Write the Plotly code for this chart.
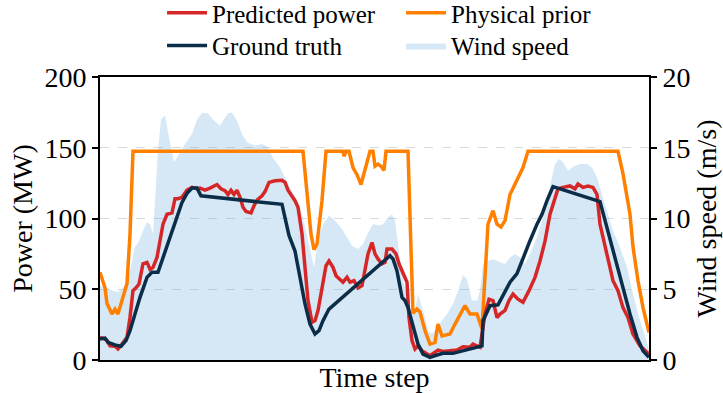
import plotly.graph_objects as go

# ---- data (time step index, values) ----
t_pred = [0, 3, 7, 10, 15, 18, 22, 27, 30, 33, 36, 39, 43, 47, 50, 53, 57, 60, 63, 67, 72, 75, 78, 82, 87, 92, 97, 100,
          105, 110, 117, 121, 125, 128, 131, 134, 137, 140, 143, 146, 151, 154, 157, 162, 165, 169, 175, 182, 185, 188,
          192, 195, 198, 202, 205, 208, 212, 215, 218, 222, 226, 229, 233, 236, 240, 243, 247, 250, 254, 258, 262, 265,
          268, 272, 275, 278, 282, 285, 287, 292, 296, 299, 303, 307, 309, 312, 315, 318, 322, 330, 338, 343, 350, 357,
          363, 370, 373, 380, 385, 389, 393, 397, 400, 405, 409, 413, 418, 423, 429, 435, 440, 445, 450, 455, 458, 463,
          470, 475, 478, 483, 488, 493, 497, 500, 503, 508, 513, 518, 523, 528, 533, 540, 547, 549]
pred = [16, 15.5, 13.7, 10, 9.7, 7.8, 11.3, 16, 30, 49, 51, 53.7, 68, 69, 64, 65.5, 72.5, 84, 96, 103, 104, 114, 114, 115,
        120, 122, 121, 121.5, 120, 121.5, 124, 121, 119.7, 117, 120, 117, 120, 115, 108, 105, 104, 109, 113, 116, 119,
        125.5, 126.7, 127, 125.5, 120, 116, 112.6, 108, 89, 65.5, 42, 26.6, 27.8, 35, 51, 66.7, 70, 65.5, 59.6, 57, 55,
        58.4, 55, 56, 51, 52.5, 63, 75, 83, 75, 71.4, 68, 69, 78.4, 78.4, 75, 68, 61, 55, 30, 13.7, 7.8, 10, 6.6, 3, 7,
        6, 6.6, 7, 9.4, 9, 11.3, 9, 32.5, 43, 42, 30, 32.5, 35, 42, 46.6, 43, 40.8, 49, 58.4, 70, 84, 103, 115, 121, 122,
        123, 121, 124.4, 122, 123, 122, 117, 96, 86.7, 72.5, 56, 49, 37, 30, 18.4, 10, 5.4, 4.2]

t_true = [0, 5, 8, 15, 21, 26, 30, 35, 40, 47, 52, 58, 63, 70, 77, 82, 87, 92, 97, 101, 182, 185, 189, 195, 200, 205,
          210, 215, 219, 223, 229, 290, 293, 297, 302, 305, 308, 313, 318, 323, 330, 337, 343, 353, 363, 370, 382, 383,
          390, 398, 403, 410, 417, 423, 430, 437, 442, 447, 453, 500, 505, 510, 517, 523, 530, 537, 543, 549]
truth = [14.8, 15.5, 12.5, 10.6, 9.7, 13.7, 20.7, 32.5, 44.3, 58.4, 62, 62, 72.5, 86.7, 100.8, 111.4, 117.8, 121.5,
         121.5, 116, 110, 100.8, 88, 77, 58.4, 39.6, 25.4, 18.4, 20.7, 27.8, 36, 73.7, 71.4, 63, 44.3, 42, 37, 23, 11.3,
         4.2, 1.9, 3.5, 4.7, 4.7, 6.6, 7.8, 10, 27.8, 38.4, 39, 45.5, 55, 61, 72.5, 84.3, 96, 103, 112.6, 122.5, 112,
         98.5, 84.3, 67.8, 51, 32.5, 16, 6.6, 1.9]

t_prior = [0, 5, 7, 12, 15, 18, 22, 27, 30, 33, 203, 208, 211, 214, 217, 222, 226, 243, 244, 246, 249, 253, 257, 261,
           265, 270, 273, 275, 278, 281, 284, 286, 308, 311, 313, 317, 320, 325, 330, 335, 338, 342, 350, 355, 360, 365,
           370, 377, 382, 385, 388, 393, 397, 401, 405, 410, 417, 423, 428, 518, 523, 527, 530, 533, 538, 543, 549]
prior = [62, 51, 40, 32.5, 36, 32.5, 42, 54, 89, 147.5, 147.5, 112.6, 89, 78, 82, 112.6, 147.5, 147.5, 144, 147.5,
         147.5, 136, 131, 124, 134, 147.5, 147.5, 137, 138.5, 137, 134, 147.5, 147.5, 77, 33, 36, 34, 20.7, 11.3, 12.5,
         25.4, 17, 18.4, 25.4, 32.5, 38.4, 32.5, 32.5, 22, 58, 96, 105.5, 96, 94, 98.5, 117, 128, 136, 147.5, 147.5,
         131.5, 115, 103, 80, 56, 37, 19.5]

t_wind = [0, 7, 13, 18, 23, 28, 32, 35, 39, 43, 47, 50, 53, 55, 58, 61, 65, 68, 71, 74, 78, 85, 92, 97, 102, 108, 113,
          120, 123, 128, 132, 137, 142, 147, 155, 162, 167, 173, 180, 185, 190, 195, 200, 205, 210, 214, 218, 223, 229,
          235, 242, 247, 252, 258, 263, 268, 273, 279, 283, 288, 292, 295, 298, 302, 305, 308, 312, 315, 318, 322, 325,
          328, 332, 337, 342, 347, 353, 358, 363, 367, 372, 377, 380, 383, 388, 393, 400, 405, 410, 415, 420, 425, 430,
          437, 443, 450, 455, 459, 463, 468, 473, 480, 487, 492, 497, 502, 507, 513, 520, 527, 533, 540, 547, 549]
wind = [5.25, 5.1, 4.9, 4.8, 5.1, 5.6, 7.0, 7.96, 8.4, 9.14, 9.73, 9.6, 8.9, 11.26, 14.8, 17.0, 17.3, 16.1, 15.0, 13.97,
        14.44, 15.26, 15.97, 17.0, 17.46, 17.43, 17.0, 16.56, 16.9, 17.43, 17.5, 16.9, 15.97, 15.38, 15.15, 15.26, 15.08,
        14.3, 13.6, 12.9, 12.25, 11.5, 10.8, 9.38, 7.7, 6.55, 8.43, 9.6, 10.2, 9.85, 9.26, 8.67, 8.08, 7.84, 8.2, 9.0,
        9.6, 9.5, 9.6, 10.08, 10.3, 9.85, 8.2, 6.0, 5.1, 4.0, 3.25, 3.5, 4.66, 3.8, 3.0, 2.07, 1.84, 2.3, 2.78, 3.25,
        3.96, 4.9, 6.0, 5.7, 4.2, 4.2, 4.9, 6.78, 7.0, 7.14, 6.9, 6.78, 7.25, 7.5, 7.25, 6.78, 7.5, 8.67, 10.1, 12.2,
        13.85, 14.2, 13.97, 13.38, 13.66, 13.85, 13.85, 13.6, 12.9, 11.7, 10.55, 9.14, 7.96, 6.55, 4.66, 2.78, 1.25, 0.66]

# ---- styling ----
FONT = "Liberation Serif"
RED = "#d62728"
ORANGE = "#ff8000"
NAVY = "#0b2d48"
LW = 3.5

fig = go.Figure()

# wind speed area on primary y (right side, drawn beneath the power lines)
fig.add_trace(go.Scatter(x=t_wind, y=wind, name="Wind speed", mode="lines", fill="tozeroy",
                         fillcolor="rgba(120,180,222,0.3)", line=dict(width=0, color="rgba(0,0,0,0)"),
                         yaxis="y", legend="legend2", legendrank=2, hoverinfo="skip"))

fig.add_trace(go.Scatter(x=t_prior, y=prior, name="Physical prior", mode="lines",
                         line=dict(color=ORANGE, width=LW), yaxis="y2", legend="legend", legendrank=2))
fig.add_trace(go.Scatter(x=t_pred, y=pred, name="Predicted power", mode="lines",
                         line=dict(color=RED, width=LW), yaxis="y2", legend="legend", legendrank=1))
fig.add_trace(go.Scatter(x=t_true, y=truth, name="Ground truth", mode="lines",
                         line=dict(color=NAVY, width=LW), yaxis="y2", legend="legend2", legendrank=1))

axis_common = dict(showline=True, linecolor="black", linewidth=1.8, zeroline=False,
                   tickfont=dict(family=FONT, size=28, color="black"),
                   ticks="outside", ticklen=6, tickwidth=1.5, tickcolor="black")

legend_common = dict(orientation="h", xanchor="left", yanchor="middle", x=0.113,
                     font=dict(family=FONT, size=25, color="black"), bgcolor="rgba(0,0,0,0)",
                     entrywidth=184, entrywidthmode="pixels", itemwidth=40, traceorder="normal")

fig.update_layout(
    width=723, height=393,
    margin=dict(l=100, r=74, t=77, b=33, autoexpand=False),
    plot_bgcolor="white", paper_bgcolor="white",
    font=dict(family=FONT, color="black"),
    xaxis=dict(range=[0, 549], showline=True, linecolor="black", linewidth=1.8, mirror=True,
               showticklabels=False, ticks="", showgrid=False, zeroline=False,
               title=dict(text="Time step", font=dict(family=FONT, size=28, color="black"), standoff=11)),
    yaxis=dict(range=[0, 20], tickvals=[0, 5, 10, 15, 20], side="right",
               showgrid=True, gridcolor="#d9d9d9", griddash="dash", gridwidth=1,
               title=dict(text="Wind speed (m/s)", font=dict(family=FONT, size=28, color="black"), standoff=4),
               **axis_common),
    yaxis2=dict(range=[0, 200], tickvals=[0, 50, 100, 150, 200], side="left", overlaying="y",
                showgrid=False,
                title=dict(text="Power (MW)", font=dict(family=FONT, size=28, color="black"), standoff=4),
                **axis_common),
    legend=dict(y=1.226, **legend_common),
    legend2=dict(y=1.11, **legend_common),
    showlegend=True,
)

# remove the browser's default 8 px body margin so the figure sits at the page origin
fig.write_html("out.html", config={"displayModeBar": False},
               post_script="document.body.style.margin='0px';")
